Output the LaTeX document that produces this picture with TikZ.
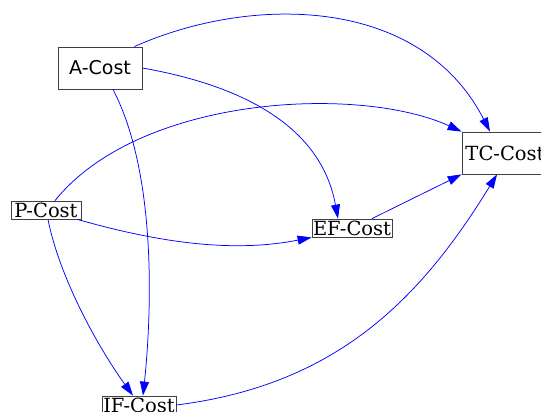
\documentclass[tikz,border=0pt]{standalone}
\usepackage{fontspec}
\newfontfamily\costserif{DejaVu Serif}
\newfontfamily\costsans{DejaVu Sans}
\usetikzlibrary{arrows.meta}

\begin{document}
\begin{tikzpicture}[x=1pt, y=-1pt,
  costbox/.style={rectangle, draw=black!75, line width=0.8pt, fill=white, inner sep=0pt, minimum height=18pt, font=\costserif\fontsize{19.5}{20}\selectfont},
  bigbox/.style={costbox, minimum height=42pt},
  flow/.style={draw=blue, line width=0.75pt, -{Triangle[length=14pt, width=9pt]}}]
\useasboundingbox (0,0) rectangle (541,412);

\node[bigbox, minimum width=84pt, font=\costsans\fontsize{19}{20}\selectfont] (A) at (100,68) {A-Cost};
\node[costbox, minimum width=70pt] (P) at (46,210) {P-Cost};
\node[costbox, minimum width=80pt] (EF) at (352,228) {EF-Cost};
\node[bigbox, minimum width=86pt] (TC) at (505,153) {TC-Cost};
\node[costbox, minimum width=74pt] (IF) at (139,405) {IF-Cost};

% edges out of A-Cost
\draw[flow] ([xshift=-8pt]A.north east) .. controls (250,-5) and (420,-5) .. ([xshift=-15pt]TC.north);
\draw[flow] (A.east) .. controls (284,93) and (326,153) .. ([xshift=-14pt]EF.north);
\draw[flow] ([xshift=13pt]A.south) .. controls (160,180) and (150,330) .. ([xshift=4pt]IF.north);

% edges out of P-Cost
\draw[flow] ([xshift=9pt]P.north) .. controls (140,95) and (360,85) .. (TC.north west);
\draw[flow] ([xshift=-4pt]P.south east) .. controls (167,245) and (238,252) .. (EF.south west);
\draw[flow] ([xshift=2pt]P.south) .. controls (60,280) and (100,350) .. ([xshift=-6pt]IF.north);

% into TC-Cost
\draw[flow] ([xshift=20pt]EF.north) -- (TC.south west);
\draw[flow] (IF.east) .. controls (336,385) and (420,300) .. ([xshift=-8pt]TC.south);
\end{tikzpicture}
\end{document}
